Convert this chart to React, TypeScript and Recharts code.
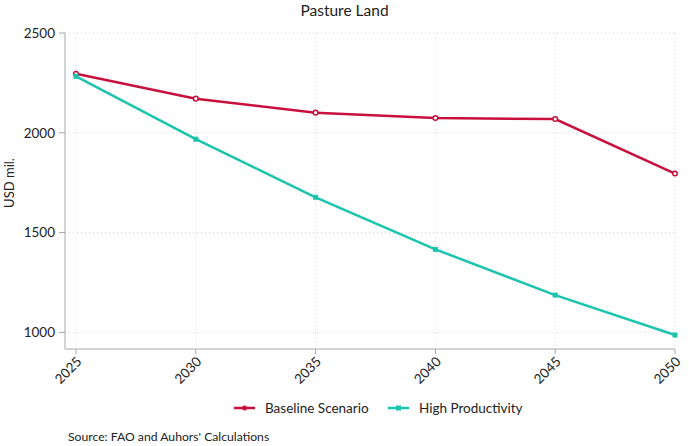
import React from "react";
import { LineChart, Line, XAxis, YAxis, CartesianGrid } from "recharts";

const years = [2025, 2030, 2035, 2040, 2045, 2050];
const baselineScenario = [2296, 2171, 2101, 2074, 2069, 1796];
const highProductivity = [2283, 1968, 1677, 1416, 1187, 987];
const yTicks = [1000, 1500, 2000, 2500];

const data = years.map((year, i) => ({
  year,
  baseline: baselineScenario[i],
  high: highProductivity[i],
}));

const RED = "#c8103c";
const TEAL = "#1cc4ae";
const AXIS = "#a8a8a8";
const TEXT = "#222";
const FONT = "Lato, 'Open Sans', sans-serif";

const XTick = (props: any) => {
  const { x, y, payload } = props;
  return (
    <g transform={`translate(${x + 3},${y + 3})`}>
      <text
        transform="rotate(-45)"
        textAnchor="end"
        dominantBaseline="central"
        fill={TEXT}
        fontSize={13.5}
        fontFamily={FONT}
      >
        {payload.value}
      </text>
    </g>
  );
};

const SquareDot = (props: any) => {
  const { cx, cy } = props;
  if (cx == null || cy == null) return null;
  return <rect x={cx - 2.5} y={cy - 2.5} width={5} height={5} fill={TEAL} />;
};

const CircleDot = (props: any) => {
  const { cx, cy } = props;
  if (cx == null || cy == null) return null;
  return <circle cx={cx} cy={cy} r={2.3} fill="#fff" stroke={RED} strokeWidth={1.5} />;
};

const LegendItem = ({
  color,
  label,
  square,
  left,
}: {
  color: string;
  label: string;
  square?: boolean;
  left: number;
}) => (
  <div
    style={{
      position: "absolute",
      top: 400,
      left,
      display: "flex",
      alignItems: "center",
      fontSize: 13.5,
      whiteSpace: "nowrap",
    }}
  >
    <svg width={21} height={10} style={{ marginRight: 10 }}>
      <line x1={0} y1={5} x2={21} y2={5} stroke={color} strokeWidth={2.5} />
      {square ? (
        <rect x={8} y={2.5} width={5} height={5} fill={color} />
      ) : (
        <circle cx={10.5} cy={5} r={2.5} fill={color} />
      )}
    </svg>
    <span>{label}</span>
  </div>
);

export default function App() {
  return (
    <div
      style={{
        position: "absolute",
        left: 0,
        top: 0,
        width: 689,
        height: 446,
        background: "#fff",
        fontFamily: FONT,
        color: TEXT,
      }}
    >
      <div
        style={{
          position: "absolute",
          top: 1,
          left: 0,
          width: 689,
          textAlign: "center",
          fontSize: 15.5,
        }}
      >
        Pasture Land
      </div>
      <div
        style={{
          position: "absolute",
          left: 9,
          top: 183,
          fontSize: 13,
          transform: "translate(-50%, -50%) rotate(-90deg)",
          transformOrigin: "center",
          whiteSpace: "nowrap",
        }}
      >
        USD mil.
      </div>
      <LineChart
        width={689}
        height={446}
        data={data}
        margin={{ top: 33, right: 14, bottom: 47, left: 0 }}
      >
        <CartesianGrid
          stroke="#d6d6d6"
          strokeDasharray="1 3"
          horizontalValues={yTicks}
          verticalValues={years}
        />
        <XAxis
          dataKey="year"
          type="number"
          domain={[2025, 2050]}
          ticks={years}
          padding={{ left: 11, right: 0 }}
          height={50}
          stroke={AXIS}
          tickLine={{ stroke: AXIS }}
          tickSize={5}
          tick={<XTick />}
          interval={0}
        />
        <YAxis
          type="number"
          domain={[1000, 2500]}
          ticks={yTicks}
          padding={{ top: 0, bottom: 14 }}
          width={65}
          stroke={AXIS}
          tickLine={{ stroke: AXIS }}
          tickSize={6}
          tickMargin={4}
          tick={{ fill: TEXT, fontSize: 13.5, fontFamily: FONT }}
          interval={0}
        />
        <Line
          dataKey="baseline"
          stroke={RED}
          strokeWidth={2.5}
          dot={<CircleDot />}
          isAnimationActive={false}
        />
        <Line
          dataKey="high"
          stroke={TEAL}
          strokeWidth={2.5}
          dot={<SquareDot />}
          isAnimationActive={false}
        />
      </LineChart>
      <LegendItem color={RED} label="Baseline Scenario" left={234} />
      <LegendItem color={TEAL} label="High Productivity" square left={388} />
      <div style={{ position: "absolute", left: 68, top: 429, fontSize: 12.2 }}>
        Source: FAO and Auhors' Calculations
      </div>
    </div>
  );
}
